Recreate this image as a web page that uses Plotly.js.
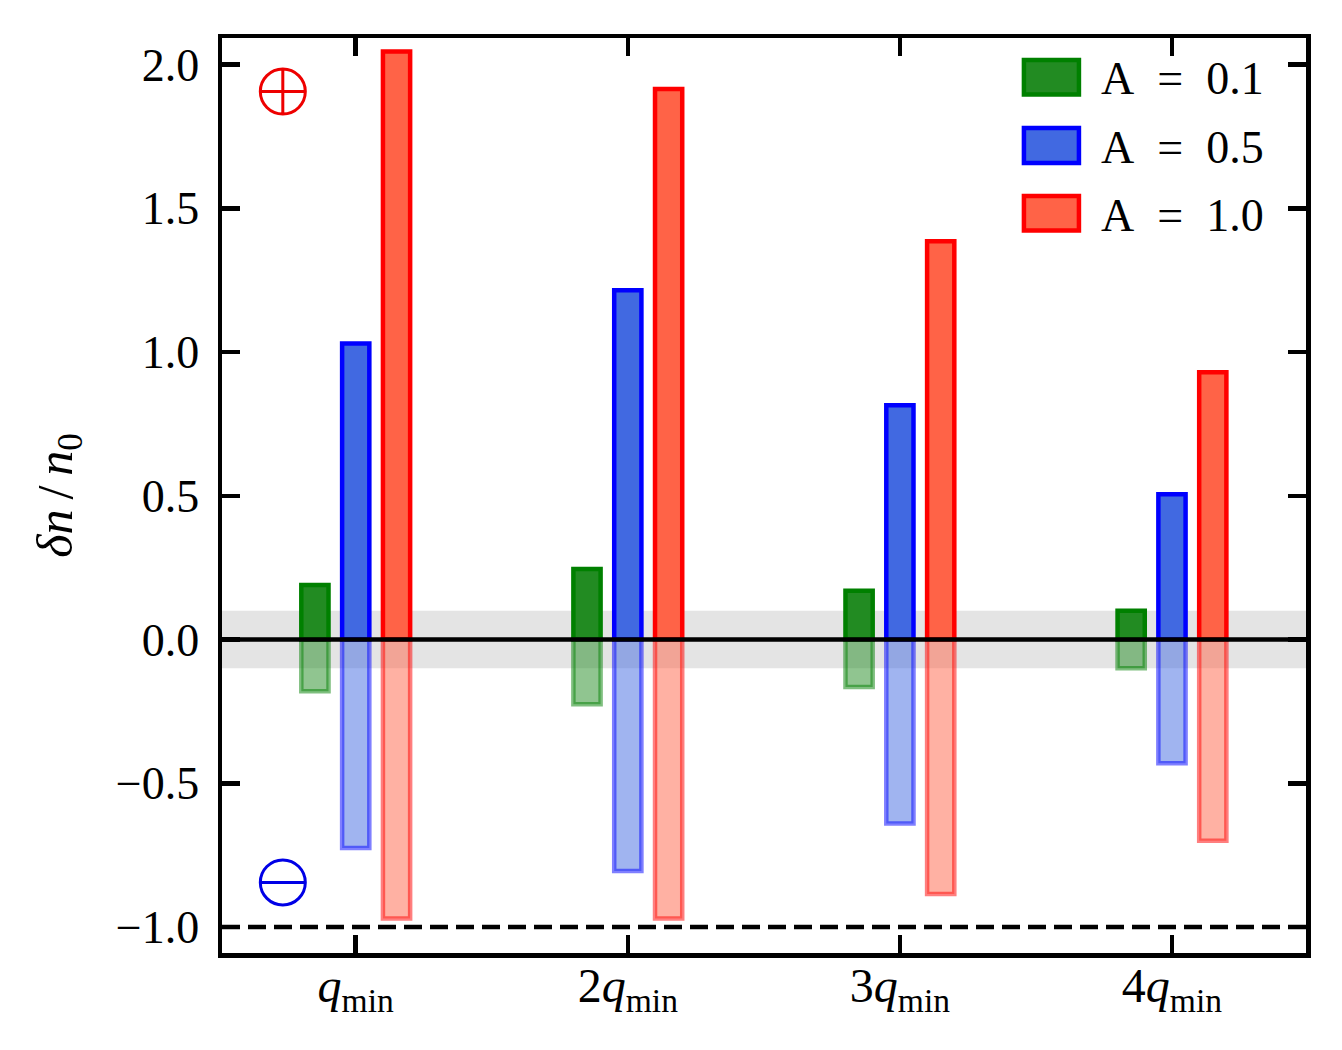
<!DOCTYPE html>
<html>
<head>
<meta charset="utf-8">
<script src="https://cdn.plot.ly/plotly-3.0.1.min.js"></script>
<style>
  html, body { margin: 0; padding: 0; background: #fff; }
  #chart { width: 1342px; height: 1050px; }
</style>
</head>
<body>
<div id="chart"></div>
<script>
// values: outer edge of every bar, per wavevector
const tickPositions = [0, 1, 2, 3]
const tickLabels = [
  "<i>q</i><sub>min</sub>", "2<i>q</i><sub>min</sub>",
  "3<i>q</i><sub>min</sub>", "4<i>q</i><sub>min</sub>"
]
const seriesNames = ["A = 0.1", "A = 0.5", "A = 1.0"]
const plusA01 = [0.19, 0.245, 0.17, 0.10]
const plusA05 = [1.03, 1.215, 0.815, 0.505]
const plusA10 = [2.045, 1.915, 1.385, 0.93]
const minusA01 = [-0.18, -0.225, -0.165, -0.10]
const minusA05 = [-0.725, -0.805, -0.64, -0.43]
const minusA10 = [-0.97, -0.97, -0.885, -0.70]

const yTicks = [-1, -0.5, 0, 0.5, 1, 1.5, 2]
const bandHalfWidth = 0.1
const floorLevel = -1

const FONT = "'Liberation Serif', serif"
const W = 1342, H = 1050
// plotly draws the axis line outside the plot box, so the box sits inside the frame
const plot = { l: 222.3, r: 1306, t: 38, b: 953 }

const barOffsets = [-0.15, 0, 0.15]
const barWidth = 0.1
const faces = [[34, 139, 34], [65, 105, 225], [255, 99, 71]]
const edges = [[0, 128, 0], [0, 0, 255], [255, 0, 0]]
const plusValues = [plusA01, plusA05, plusA10]
const minusValues = [minusA01, minusA05, minusA10]

const rgba = (c, a) => `rgba(${c[0]},${c[1]},${c[2]},${a})`
const px = (x) => (x - plot.l) / (plot.r - plot.l)
const py = (y) => (plot.b - y) / (plot.b - plot.t)

function barTrace(values, i, alpha) {
  return {
    type: "bar",
    x: tickPositions.map((p) => p + barOffsets[i]),
    y: values,
    width: barWidth,
    name: seriesNames[i],
    marker: {
      color: rgba(faces[i], alpha),
      line: { color: rgba(edges[i], alpha), width: 4.5 }
    },
    showlegend: false,
    hoverinfo: "skip"
  }
}

const traces = [
  ...plusValues.map((v, i) => barTrace(v, i, 1)),
  ...minusValues.map((v, i) => barTrace(v, i, 0.5)),
  // the plus and minus charge signs
  {
    type: "scatter",
    mode: "markers",
    x: [-0.268, -0.268, -0.268],
    y: [1.906, -0.845, -0.845],
    marker: {
      symbol: ["circle-cross-open", "circle-open", "line-ew-open"],
      size: [45, 45, 32.5],
      opacity: 1, // array sizes would otherwise default to bubble opacity
      color: ["#ee0000", "#0000e6", "#0000e6"],
      line: { width: 3, color: ["#ee0000", "#0000e6", "#0000e6"] }
    },
    showlegend: false,
    hoverinfo: "skip"
  }
]

// Plotly's bar legend keys are fixed squares, so the wide keys are drawn by hand
const legendKeys = [{ top: 60, bottom: 94.5, mid: 78 }, { top: 128, bottom: 163, mid: 147 }, { top: 196, bottom: 230.5, mid: 215 }]

const shapes = [
  {
    type: "rect", layer: "below", xref: "paper", x0: 0, x1: 1, yref: "y",
    y0: -bandHalfWidth, y1: bandHalfWidth, fillcolor: "#e4e4e4", line: { width: 0 }
  },
  {
    type: "line", xref: "paper", x0: 0, x1: 1, yref: "y", y0: 0, y1: 0,
    line: { color: "#000", width: 4.5 }
  },
  {
    type: "line", xref: "paper", x0: 0, x1: 1, yref: "y", y0: floorLevel, y1: floorLevel,
    line: { color: "#000", width: 4.5, dash: "18px,8px" }
  },
  ...legendKeys.map((k, i) => ({
    type: "rect", xref: "paper", yref: "paper",
    x0: px(1024), x1: px(1079), y0: py(k.bottom), y1: py(k.top),
    fillcolor: rgba(faces[i], 1), line: { color: rgba(edges[i], 1), width: 4.5 }
  }))
]

const annotations = legendKeys.map((k, i) => ({
  xref: "paper", yref: "paper", x: px(1099), y: py(k.mid),
  xanchor: "left", yanchor: "middle", showarrow: false,
  // en spaces stand in for the wide spacing round the equals sign
  text: seriesNames[i].replace(/ /g, "\u2002"),
  font: { family: FONT, size: 46, color: "#000" }
}))

const axisBase = {
  ticks: "inside", ticklen: 18, tickwidth: 4.5, tickcolor: "#000",
  showline: true, linecolor: "#000", linewidth: 4.5, mirror: "allticks",
  showgrid: false, zeroline: false,
  tickfont: { family: FONT, size: 46, color: "#000" }
}

const layout = {
  width: W,
  height: H,
  paper_bgcolor: "#fff",
  plot_bgcolor: "#fff",
  margin: { l: plot.l, r: W - plot.r, t: plot.t, b: H - plot.b, pad: 0 },
  barmode: "overlay",
  showlegend: false,
  xaxis: {
    ...axisBase,
    range: [-0.4915, 3.4926],
    tickmode: "array",
    tickvals: tickPositions,
    ticktext: tickLabels,
    tickfont: { family: FONT, size: 48, color: "#000" },
    ticklabelstandoff: -13
  },
  yaxis: {
    ...axisBase,
    range: [-1.0904, 2.0922],
    tickmode: "array",
    tickvals: yTicks,
    ticktext: yTicks.map((v) => (v < 0 ? "\u2212" : "") + Math.abs(v).toFixed(1)),
    ticklabelstandoff: 9,
    title: {
      text: "<i>δn</i>\u2009/\u2009<i>n</i><sub>0</sub>",
      font: { family: FONT, size: 50, color: "#000" },
      standoff: 29
    }
  },
  shapes,
  annotations
}

Plotly.newPlot("chart", traces, layout, { displayModeBar: false, staticPlot: true })
</script>
</body>
</html>
